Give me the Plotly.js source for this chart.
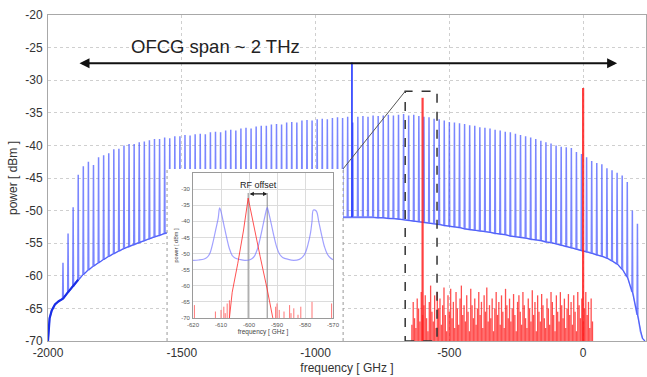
<!DOCTYPE html>
<html><head><meta charset="utf-8">
<script src="https://cdn.plot.ly/plotly-3.0.1.min.js"></script>
<style>html,body{margin:0;padding:0;background:#fff}#chart{width:647px;height:377px}</style>
</head><body><div id="chart"></div>
<script>
// ---- main comb (blue) ----
const combStart = -1944, combStep = 19;
const combPeak = [
 -58,-53.5,-49.5,-44.5,-43.2,-42.5,-43,-41.8,-41.5,-41.2,
 -40.6,-40.5,-40,-39.8,-39.8,-39.5,-39.4,-39.2,-39,-39,
 -38.8,-38.9,-38.6,-38.6,-38.4,-38.5,-38.3,-38.2,-38.3,-38,
 -37.9,-38,-37.7,-37.6,-37.7,-37.4,-37.3,-37.4,-37.1,-37,
 -37,-36.8,-36.7,-36.8,-36.5,-36.4,-36.5,-36.2,-36.1,-36.2,
 -36,-35.9,-36,-35.8,-35.7,-35.8,-35.6,-36.5,-35.6,-35.5,
 -35.6,-35.4,-35.5,-35.4,-35.3,-35.4,-35.3,-35.2,-35.4,-35.3,
 -35.5,-35.6,-35.7,-35.9,-36,-36.2,-36.4,-36.5,-36.6,-36.7,
 -36.9,-37,-37.2,-37.3,-37.4,-37.6,-37.7,-37.9,-38,-38.2,
 -38.4,-38.6,-38.8,-39,-39.3,-39.5,-39.7,-40,-40.2,-40.3,
 -40.4,-41,-41.3,-41.8,-42.4,-42.7,-42.9,-43.5,-43.8,-44.2,
 -44.6,-45.6,-50,-52];
const combFloor = [
 -63.5,-62.5,-61.6,-60.6,-59.8,-59.1,-58.5,-58,-57.5,-57,
 -56.6,-56.2,-55.8,-55.5,-55.2,-54.9,-54.6,-54.3,-54,-53.8,
 -53.5,-53.3,-53.1,-52.9,-52.7,-52.6,-52.4,-52.3,-52.2,-52.1,
 -52,-51.9,-51.8,-51.8,-51.7,-51.6,-51.6,-51.5,-51.5,-51.4,
 -51.4,-51.3,-51.3,-51.3,-51.2,-51.2,-51.2,-51.1,-51.1,-51.1,
 -51.1,-51,-51,-51,-51,-51,-51,-51,-51,-51,
 -51,-51,-51.1,-51.1,-51.2,-51.2,-51.3,-51.4,-51.5,-51.6,
 -51.7,-51.8,-51.9,-52,-52.1,-52.3,-52.4,-52.5,-52.6,-52.8,
 -52.9,-53,-53.1,-53.2,-53.3,-53.5,-53.6,-53.7,-53.9,-54,
 -54.1,-54.2,-54.4,-54.5,-54.6,-54.8,-54.9,-55.1,-55.3,-55.5,
 -55.7,-55.9,-56.1,-56.3,-56.5,-56.8,-57,-57.3,-57.7,-58.2,
 -59,-60.2,-62.5,-66];
const leftEdgeF = [-2000,-1998,-1994,-1986,-1974,-1960];
const leftEdgeP = [-70,-68,-66.5,-65.3,-64.4,-63.9];
const rightEdgeF = [214,222,231];
const rightEdgeP = [-68.5,-69.6,-70];
const pumpF = -864, pumpTop = -27.3, pumpBase = -51;

// ---- red (RF) ----
const rfSpikeF = [-600, 0];
const rfSpikeP = [-32.7, -31.2];
const noiseStart = -640, noiseStep = 5;
const noiseP = [
 -67.5,-64,-66.5,-68,-63.5,-65,-67,-62.5,-66,-64.5,
 -63,-66.5,-68.5,-64,-61.5,-65.5,-67,-63,-68,-62.5,
 -65,-63.5,-67.5,-64.5,-61.8,-66,-68.5,-63,-65.5,-62,
 -66.5,-64,-68,-62.5,-65,-67.5,-63.5,-61.5,-66,-64.5,
 -67,-63,-65.5,-68.5,-62,-64.5,-66.5,-63.5,-67.5,-65,
 -62.5,-66,-64,-68,-63,-65.5,-61.8,-67,-64.5,-66.5,
 -63.5,-68.5,-65,-62.5,-66,-64,-67.5,-63,-65.5,-68,
 -62,-64.5,-66.5,-63.5,-67,-65,-62.8,-66,-68.5,-64,
 -63,-65.5,-67.5,-62.5,-64.5,-66.5,-68,-63.5,-65,-67,
 -62.2,-66,-64,-68.5,-63,-65.5,-67,-62.8,-64.5,-66.5,
 -68,-63.5,-65,-67.5,-62.5,-64,-66,-68.5,-63,-65.5,
 -67,-62.5,-64.5,-66.5,-63.5,-68,-65,-62.8,-66,-64,
 -67.5,-63,-65.5,-68.5,-62.5,-64.5,-66.5,-63.5,-67,-65,
 -62.5,-66,-64,-68,-63.5,-67];

// ---- inset ----
const insetBlueF = [-620,-618,-616,-615,-614,-613,-612,-611,-610.5,-610,-609,-608,-607,-606,-605,-603,-601.5,
 -600,-599,-598,-597,-596,-595,-594,-593.5,-593,-592,-591,-590,-589,-588,-586,-584,
 -582,-581,-580,-579,-578,-577.5,-577,-576,-575,-574,-573,-572,-571,-570];
const insetBlueP = [-52.1,-52,-51.7,-51.2,-50,-47,-43,-39,-35.8,-37,-41,-45,-48.5,-50.6,-51.4,-51.9,-52.1,
 -52,-51.6,-50.7,-48.6,-45.2,-41.2,-37.2,-35.7,-37.2,-41,-45,-48.3,-50.3,-51.2,-51.8,-52.1,
 -51.8,-51.2,-50,-47.4,-43.4,-40,-36.5,-36.8,-40.5,-44.5,-48,-50.2,-51.3,-51.9];
const insetRedF = [-607,-606,-604,-602,-600.3,-598,-596,-593.6,-591.5];
const insetRedP = [-70,-62,-53,-43,-32.8,-42,-51,-60.7,-70];
const insetNoiseF = [-619.5,-612,-610,-609,-608.5,-607.8,-607,-590.5,-590,-589.2,-587.5,-585.5,-585,-584,-582.5,-581.5,-577.5,-570.5];
const insetNoiseP = [-66,-68,-67.5,-66.5,-68.5,-65.5,-64.5,-66.5,-65.5,-67.5,-68,-66,-68.5,-67,-69,-66.5,-65,-65.5];
const rfMarkF = [-600.3, -593.5];
const mainXTicks = [-2000,-1500,-1000,-500,0];
const mainYTicks = [-70,-65,-60,-55,-50,-45,-40,-35,-30,-25,-20];
const insetXTicks = [-620,-610,-600,-590,-580,-570];
const insetYTicks = [-70,-65,-60,-55,-50,-45,-40,-35,-30];

// build traces
const cx = [], cy = [];
leftEdgeF.forEach((f,i)=>{cx.push(f); cy.push(leftEdgeP[i]);});
const nC = Math.min(combPeak.length, combFloor.length);
for (let i=0;i<nC;i++){
  const f = combStart + combStep*i;
  cx.push(f-1.5, f, f+1.5); cy.push(combFloor[i], combPeak[i], combFloor[i]);
}
rightEdgeF.forEach((f,i)=>{cx.push(f); cy.push(rightEdgeP[i]);});

const fx = [], fy = [];
leftEdgeF.forEach((f,i)=>{fx.push(f); fy.push(leftEdgeP[i]);});
for (let i=0;i<nC;i++){ fx.push(combStart+combStep*i); fy.push(combFloor[i]); }
rightEdgeF.forEach((f,i)=>{fx.push(f); fy.push(rightEdgeP[i]);});

const edgeX = [], edgeY = [];
leftEdgeF.forEach((f,i)=>{edgeX.push(f); edgeY.push(leftEdgeP[i]);});
for (let i=0;i<4;i++){edgeX.push(combStart+combStep*i); edgeY.push(combFloor[i]);}

const nx = [], ny = [];
noiseP.forEach((v,i)=>{const f = noiseStart+noiseStep*i; nx.push(f,f,null); ny.push(-70,v,null);});
const sx = [], sy = [];
rfSpikeF.forEach((f,i)=>{sx.push(f,f,null); sy.push(-70,rfSpikeP[i],null);});
const inx = [], iny = [];
insetNoiseF.forEach((f,i)=>{inx.push(f,f,null); iny.push(-70,insetNoiseP[i],null);});
const gx = [], gy = [];
rfMarkF.forEach(f=>{gx.push(f,f,null); gy.push(-70,-31.2,null);});

const data = [
  {x:cx, y:cy, mode:'lines', line:{color:'rgba(70,88,255,0.72)', width:1.5}, hoverinfo:'skip'},
  {x:fx, y:fy, mode:'lines', line:{color:'rgba(40,60,240,0.55)', width:1}, hoverinfo:'skip'},
  {x:edgeX, y:edgeY, mode:'lines', line:{color:'#1a2ee6', width:2.2}, hoverinfo:'skip'},
  {x:[pumpF,pumpF], y:[pumpBase,pumpTop], mode:'lines', line:{color:'#2035ff', width:1.6}, hoverinfo:'skip'},
  {x:nx, y:ny, mode:'lines', line:{color:'rgba(255,10,10,0.72)', width:1.3}, connectgaps:false, hoverinfo:'skip'},
  {x:sx, y:sy, mode:'lines', line:{color:'rgba(255,30,30,0.85)', width:2.2}, connectgaps:false, hoverinfo:'skip'},
  {x:[], y:[], xaxis:'x2', yaxis:'y2', mode:'lines', hoverinfo:'skip'},
  {x:gx, y:gy, xaxis:'x3', yaxis:'y3', mode:'lines', line:{color:'#8a8a8a', width:1}, connectgaps:false, hoverinfo:'skip'},
  {x:insetBlueF, y:insetBlueP, xaxis:'x3', yaxis:'y3', mode:'lines', line:{color:'rgba(110,110,255,0.65)', width:1.2, shape:'spline'}, hoverinfo:'skip'},
  {x:inx, y:iny, xaxis:'x3', yaxis:'y3', mode:'lines', line:{color:'rgba(255,60,60,0.7)', width:1}, connectgaps:false, hoverinfo:'skip'},
  {x:insetRedF, y:insetRedP, xaxis:'x3', yaxis:'y3', mode:'lines', line:{color:'rgba(255,50,50,0.85)', width:1}, hoverinfo:'skip'}
];

const FONT = 'Liberation Sans, Arial, Helvetica, sans-serif';
const layout = {
  width:647, height:377, margin:{l:48, r:1, t:15, b:36},
  paper_bgcolor:'#fff', plot_bgcolor:'#fff', showlegend:false,
  font:{family:FONT, color:'#333', size:12},
  xaxis:{domain:[0,1], range:[-2000,235], tickvals:mainXTicks, ticktext:mainXTicks.map(String),
    showgrid:true, gridcolor:'#cfcfcf', griddash:'dot', gridwidth:1, zeroline:false,
    showline:true, mirror:true, linecolor:'#a8a8a8', linewidth:1, ticks:'', ticklabelstandoff:1,
    tickfont:{size:12, color:'#333'},
    title:{text:'frequency [ GHz ]', font:{size:12, color:'#333'}, standoff:4}},
  yaxis:{domain:[0,1], range:[-70,-20], tickvals:mainYTicks, ticktext:mainYTicks.map(String),
    showgrid:true, gridcolor:'#cfcfcf', griddash:'dot', gridwidth:1, zeroline:false,
    showline:true, mirror:true, linecolor:'#a8a8a8', linewidth:1, ticks:'', ticklabelstandoff:2,
    tickfont:{size:12, color:'#333'},
    title:{text:'power [ dBm ]', font:{size:12, color:'#333'}, standoff:5}},
  xaxis2:{domain:[0.199,0.4933], range:[0,1], anchor:'y2', showgrid:false, zeroline:false, showticklabels:false, ticks:'', showline:false, fixedrange:true},
  yaxis2:{domain:[0,0.5276], range:[0,1], anchor:'x2', showgrid:false, zeroline:false, showticklabels:false, ticks:'', showline:false, fixedrange:true},
  xaxis3:{domain:[0.2425,0.4766], range:[-620,-570], anchor:'y3', tickvals:insetXTicks, ticktext:insetXTicks.map(String),
    showgrid:true, gridcolor:'#dcdcdc', gridwidth:1, zeroline:false, showline:true, mirror:true, linecolor:'#9a9a9a',
    ticks:'', ticklabelstandoff:1, tickfont:{size:6, color:'#555'},
    title:{text:'frequency [ GHz ]', font:{size:6.5, color:'#444'}, standoff:1}},
  yaxis3:{domain:[0.0706,0.5153], range:[-70,-25], anchor:'x3', tickvals:insetYTicks, ticktext:insetYTicks.map(String),
    showgrid:true, gridcolor:'#dcdcdc', gridwidth:1, zeroline:false, showline:true, mirror:true, linecolor:'#9a9a9a',
    ticks:'', ticklabelstandoff:1, tickfont:{size:6, color:'#555'},
    title:{text:'power [ dBm ]', font:{size:5.5, color:'#444'}, standoff:2}},
  shapes:[
    {type:'rect', xref:'x', yref:'y', x0:-665, x1:-546, y0:-70, y1:-31.7, line:{color:'#333', width:1.5, dash:'dash'}, layer:'above'},
    {type:'line', xref:'x', yref:'y', x0:-897, y0:-43.6, x1:-665, y1:-31.7, line:{color:'#555', width:1}, layer:'above'},
    {type:'line', xref:'x', yref:'y', x0:-1555, y0:-70, x1:-1555, y1:-43.6, line:{color:'#999', width:1, dash:'dot'}, layer:'above'},
    {type:'line', xref:'x', yref:'y', x0:-897, y0:-70, x1:-897, y1:-43.6, line:{color:'#999', width:1, dash:'dot'}, layer:'above'}
  ],
  annotations:[
    {x:127, y:-27.4, ax:-1888, ay:-27.4, xref:'x', yref:'y', axref:'x', ayref:'y', text:'', showarrow:true,
      arrowhead:2, arrowside:'end+start', arrowsize:1, arrowwidth:2, arrowcolor:'#111'},
    {x:-1375, y:-24.9, xref:'x', yref:'y', text:'OFCG span ~ 2 THz', showarrow:false, font:{size:18.5, color:'#222', family:FONT}},
    {x:-593.5, y:-31.5, ax:-600.3, ay:-31.5, xref:'x3', yref:'y3', axref:'x3', ayref:'y3', text:'', showarrow:true,
      arrowhead:2, arrowside:'end+start', arrowsize:0.7, arrowwidth:1.2, arrowcolor:'#222'},
    {x:-596.5, y:-28.8, xref:'x3', yref:'y3', text:'RF offset', showarrow:false, font:{size:9, color:'#222', family:FONT}}
  ]
};
Plotly.newPlot('chart', data, layout, {staticPlot:true, displayModeBar:false});
</script></body></html>
